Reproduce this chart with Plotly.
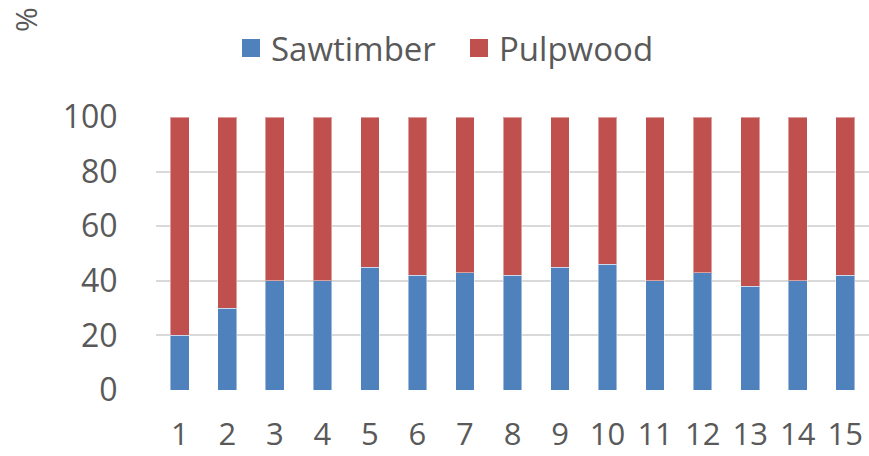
import plotly.graph_objects as go

categories = [str(i) for i in range(1, 16)]
sawtimber = [20, 30, 40, 40, 45, 42, 43, 42, 45, 46, 40, 43, 38, 40, 42]
pulpwood = [100 - v for v in sawtimber]
series_names = ["Sawtimber", "Pulpwood"]
y_ticks = [0, 20, 40, 60, 80, 100]

BLUE = "#4F81BD"
RED = "#C0504D"
TXT = "#595959"
FONT = "Open Sans"

fig = go.Figure()
for name, vals, col in [(series_names[0], sawtimber, BLUE), (series_names[1], pulpwood, RED)]:
    fig.add_trace(go.Bar(
        x=categories, y=vals, name=name, showlegend=False,
        marker=dict(color=col, line=dict(color="rgba(255,255,255,0.45)", width=1)),
    ))
# legend proxies (larger square swatches)
for name, col in [(series_names[0], BLUE), (series_names[1], RED)]:
    fig.add_trace(go.Scatter(
        x=[None], y=[None], mode="markers", name=name,
        marker=dict(symbol="square", size=16, color=col, line=dict(color=col, width=2)),
    ))

W, H = 869, 456
L, R, T, B = 156, 0, 117, 66

fig.update_layout(
    width=W, height=H,
    margin=dict(l=L, r=R, t=T, b=B, autoexpand=False),
    barmode="stack",
    bargap=0.607,
    plot_bgcolor="white",
    paper_bgcolor="white",
    font=dict(family=FONT, size=32, color=TXT),
    showlegend=True,
    legend=dict(
        orientation="h",
        traceorder="normal",
        x=(459 - L) / (W - L - R), xanchor="center",
        y=1 - 48 / H, yref="container", yanchor="middle",
        font=dict(family=FONT, size=33, color=TXT),
        itemsizing="trace",
        itemwidth=30,
        entrywidth=183,
        tracegroupgap=0,
    ),
    xaxis=dict(
        type="category",
        automargin=False,
        showgrid=False,
        showline=False,
        ticks="outside", ticklen=17, tickcolor="rgba(0,0,0,0)",
        tickfont=dict(family=FONT, size=31, color=TXT),
    ),
    yaxis=dict(
        range=[0, 100],
        automargin=False,
        tickvals=y_ticks,
        showgrid=True, gridcolor="#D9D9D9", gridwidth=1.5,
        zeroline=False,
        showline=False,
        ticks="outside", ticklen=31, tickcolor="rgba(0,0,0,0)",
        tickfont=dict(family=FONT, size=32, color=TXT),
    ),
)

fig.add_annotation(
    text="%", textangle=-90, showarrow=False,
    xref="paper", yref="paper",
    x=(26 - L) / (W - L - R), y=1 + (T - 20) / (H - T - B),
    xanchor="center", yanchor="middle",
    font=dict(family=FONT, size=30, color=TXT),
)

fig.write_html("out.html")
